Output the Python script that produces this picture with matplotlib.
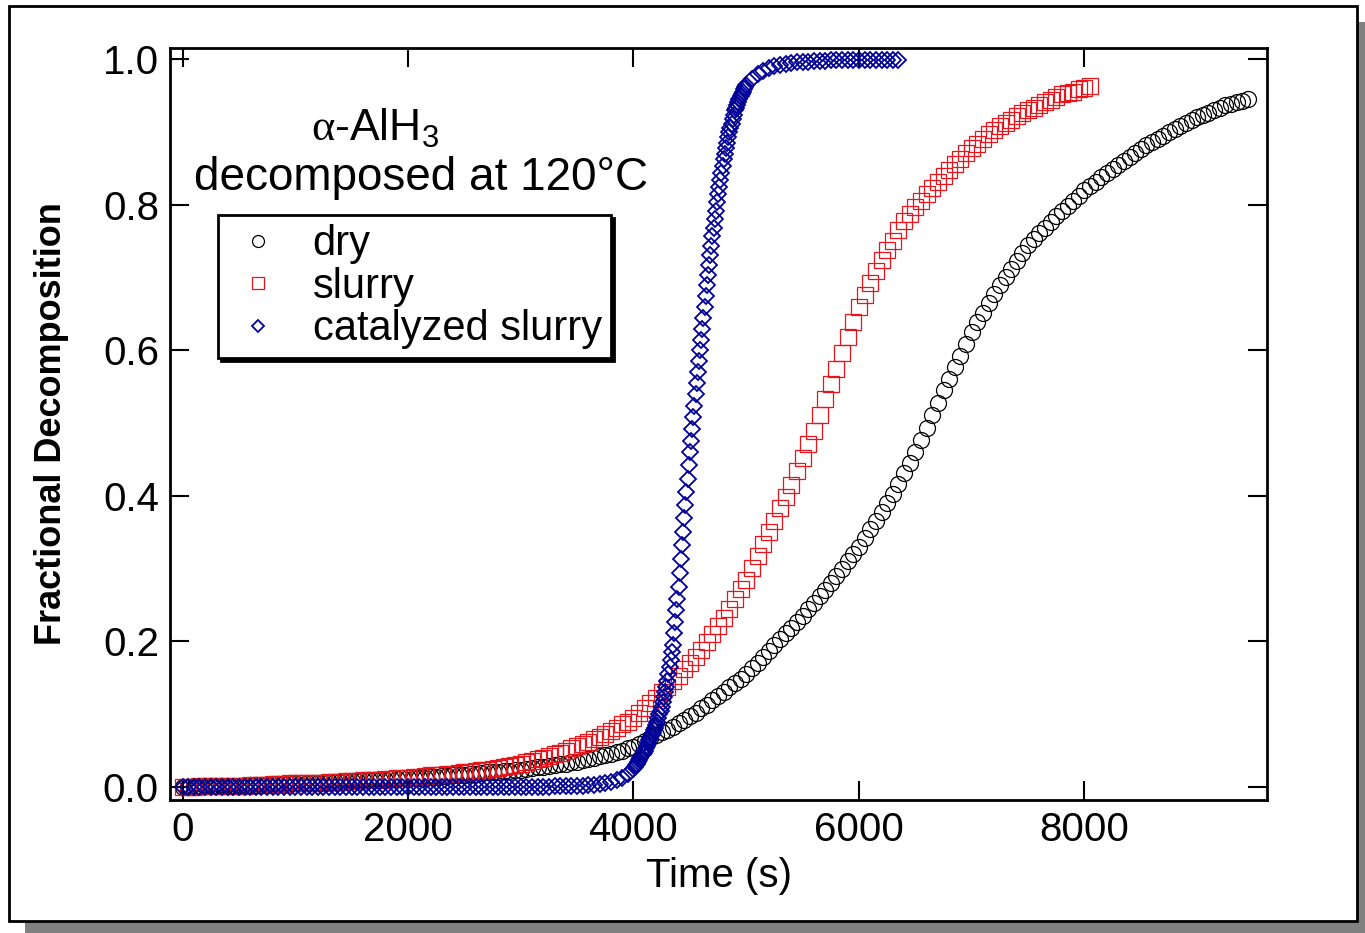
import matplotlib
matplotlib.use("Agg")
import matplotlib.pyplot as plt
from matplotlib.patches import Rectangle

plt.rcParams['font.family'] = ['Liberation Sans', 'DejaVu Sans']
plt.rcParams['mathtext.fontset'] = 'custom'
plt.rcParams['mathtext.rm'] = 'Liberation Serif'
plt.rcParams['mathtext.default'] = 'regular'

# sampling times (s)
dry_t = list(range(0, 9451, 50))
slurry_t = list(range(0, 8051, 50))
cat_t = list(range(0, 4000, 50)) + list(range(4000, 5000, 10)) + list(range(5000, 6351, 50))

# fractional decomposition
dry_f = [
    .000, .000, .000, .001, .001, .001, .001, .001, .002, .002,
    .002, .002, .003, .003, .003, .003, .004, .004, .004, .005,
    .005, .005, .006, .006, .006, .006, .007, .007, .007, .008,
    .008, .008, .009, .009, .010, .010, .010, .011, .011, .012,
    .012, .012, .013, .013, .014, .014, .015, .015, .016, .016,
    .017, .018, .018, .019, .020, .020, .021, .022, .022, .023,
    .024, .025, .026, .027, .028, .029, .030, .031, .032, .034,
    .035, .037, .038, .040, .042, .044, .046, .048, .050, .053,
    .055, .059, .063, .067, .071, .075, .079, .083, .088, .092,
    .097, .102, .108, .113, .119, .125, .131, .137, .143, .149,
    .155, .163, .171, .179, .187, .195, .203, .211, .219, .227,
    .235, .244, .253, .262, .271, .280, .290, .300, .310, .320,
    .330, .342, .354, .366, .378, .390, .403, .417, .431, .445,
    .460, .477, .494, .511, .528, .545, .561, .577, .593, .609,
    .625, .639, .652, .665, .678, .690, .701, .712, .723, .734,
    .745, .753, .761, .769, .777, .785, .792, .799, .806, .813,
    .820, .826, .832, .838, .844, .850, .855, .861, .866, .872,
    .877, .882, .886, .891, .895, .900, .904, .908, .913, .917,
    .921, .924, .927, .931, .934, .937, .939, .941, .943, .946,
]

slurry_f = [
    .000, .000, .000, .001, .001, .001, .001, .001, .002, .002,
    .002, .002, .003, .003, .003, .003, .004, .004, .004, .005,
    .005, .005, .006, .006, .006, .006, .007, .007, .007, .008,
    .008, .008, .009, .009, .010, .010, .011, .011, .012, .012,
    .013, .014, .014, .015, .016, .016, .017, .018, .018, .019,
    .020, .021, .022, .023, .024, .025, .026, .027, .029, .030,
    .032, .034, .036, .038, .040, .042, .045, .047, .050, .053,
    .056, .059, .062, .066, .069, .073, .077, .081, .086, .090,
    .095, .102, .108, .115, .122, .130, .137, .145, .153, .162,
    .170, .179, .188, .199, .210, .221, .232, .245, .258, .272,
    .285, .301, .318, .334, .350, .366, .383, .399, .415, .434,
    .452, .471, .490, .511, .533, .554, .575, .596, .618, .639,
    .660, .676, .693, .709, .725, .738, .751, .765, .778, .787,
    .797, .806, .815, .823, .831, .840, .848, .856, .863, .871,
    .878, .884, .891, .897, .903, .908, .913, .917, .922, .926,
    .930, .934, .938, .942, .945, .949, .952, .954, .956, .959,
    .961, .964,
]

cat_f = [
    .000, .000, .000, .000, .000, .000, .000, .000, .000, .000,
    .000, .000, .000, .000, .000, .000, .000, .000, .000, .000,
    .000, .000, .000, .000, .000, .000, .000, .000, .000, .000,
    .000, .000, .000, .000, .000, .000, .000, .000, .000, .000,
    .000, .000, .000, .000, .000, .000, .000, .000, .000, .000,
    .000, .000, .000, .000, .000, .000, .000, .000, .000, .000,
    .000, .000, .000, .000, .000, .000,
    .001, .001, .001, .002, .002, .002, .003, .003, .004, .005,
    .007, .009, .013, .018,
    # 4000 - 4990 s
    .025, .027, .030, .032, .035, .037, .040, .042, .045, .047,
    .050, .053, .057, .060, .064, .067, .071, .074, .078, .081,
    .085, .090, .095, .100, .105, .110, .117, .124, .131, .138,
    .145, .155, .165, .175, .185, .195, .211, .227, .243, .259,
    .275, .294, .313, .332, .351, .370, .388, .406, .424, .442,
    .460, .476, .492, .508, .524, .540, .555, .570, .585, .600,
    .615, .630, .645, .660, .675, .690, .704, .717, .731, .744,
    .758, .769, .781, .792, .804, .815, .825, .834, .844, .853,
    .863, .870, .878, .885, .893, .900, .906, .912, .918, .924,
    .930, .934, .938, .942, .946, .950, .953, .956, .959, .962,
    # 5000 - 6350 s
    .965, .973, .980, .984, .988, .991, .993, .994, .995, .996,
    .997, .997, .998, .998, .998, .999, .999, .999, .999, .999,
    .999, .999, .999, .999, .999, .999, .999, .999,
]

W, H = 1365, 933
fig = plt.figure(figsize=(W / 100, H / 100), dpi=100)

# outer frame with drop shadow
fig.patches.append(Rectangle((25 / W, 0), 1 - 25 / W, 12 / H, transform=fig.transFigure,
                             facecolor='#808080', edgecolor='none', zorder=0))
fig.patches.append(Rectangle((1357 / W, 0), 8 / W, 1 - 22 / H, transform=fig.transFigure,
                             facecolor='#808080', edgecolor='none', zorder=0))
fig.patches.append(Rectangle((9 / W, 1 - 921 / H), 1348 / W, 915 / H, transform=fig.transFigure,
                             facecolor='white', edgecolor='black', linewidth=2, zorder=1))

ax = fig.add_axes([170 / W, 1 - 800 / H, 1097 / W, 752 / H])
ax.set_zorder(2)

ax.plot(dry_t, dry_f, linestyle='none', marker='o', markersize=11.5, markerfacecolor='none',
        markeredgecolor='black', markeredgewidth=0.9, label='dry')
ax.plot(slurry_t, slurry_f, linestyle='none', marker='s', markersize=11.5, markerfacecolor='none',
        markeredgecolor='#e8141c', markeredgewidth=0.9, label='slurry')
ax.plot(cat_t, cat_f, linestyle='none', marker='D', markersize=8.5, markerfacecolor='none',
        markeredgecolor='#000099', markeredgewidth=1.3, label='catalyzed slurry')

ax.set_xlim(-111, 9619)
ax.set_ylim(-0.0179, 1.0158)
ax.set_xticks([0, 2000, 4000, 6000, 8000])
ax.set_yticks([0.0, 0.2, 0.4, 0.6, 0.8, 1.0])
ax.set_yticklabels(['0.0', '0.2', '0.4', '0.6', '0.8', '1.0'])
ax.tick_params(direction='in', length=14, width=1.5, labelsize=29, top=True, right=True, pad=8)
for s in ax.spines.values():
    s.set_linewidth(2)

ax.set_xlabel('Time (s)', fontsize=29, labelpad=6)
ax.set_ylabel('Fractional Decomposition', fontsize=26, fontweight='bold', labelpad=24)

fig.text(375 / W, 1 - 128 / H, r'$\mathrm{\alpha}$-AlH$_3$', fontsize=32, ha='center', va='center')
fig.text(421 / W, 1 - 178 / H, 'decomposed at 120°C', fontsize=33, ha='center', va='center')

leg = ax.legend(loc='upper left', bbox_to_anchor=((218 - 170) / 1097, (800 - 215) / 752),
                borderaxespad=0, fontsize=30, frameon=True, fancybox=False,
                shadow={'color': 'black', 'alpha': 1}, markerscale=0.75,
                handlelength=1.5, handletextpad=0.55, labelspacing=0.06, borderpad=0.22)
leg.get_frame().set_edgecolor('black')
leg.get_frame().set_linewidth(2)

fig.savefig('out.png', dpi=100)
